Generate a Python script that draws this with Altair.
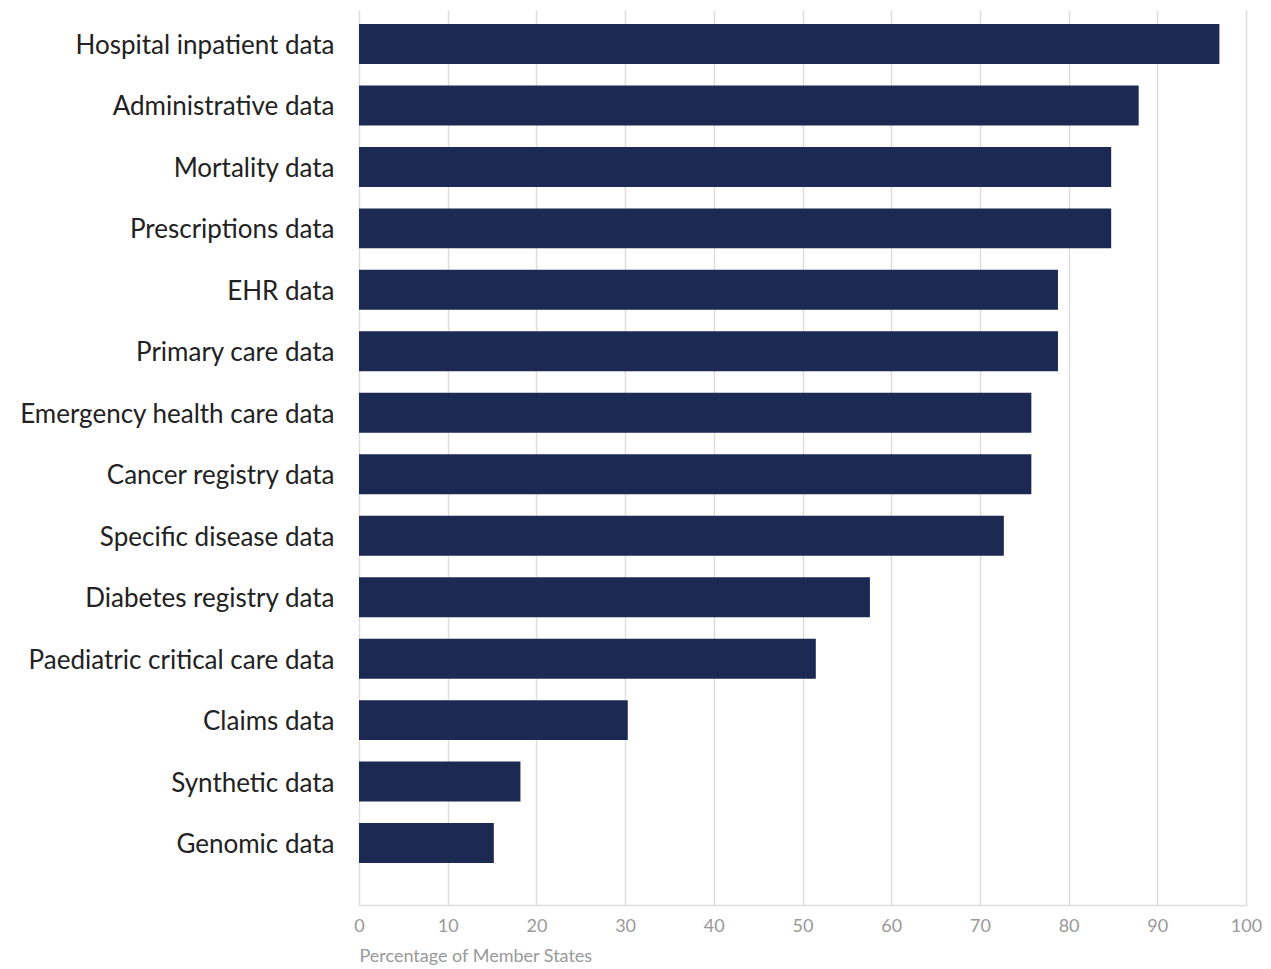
import altair as alt
import pandas as pd

categories = [
    "Hospital inpatient data", "Administrative data", "Mortality data",
    "Prescriptions data", "EHR data", "Primary care data",
    "Emergency health care data", "Cancer registry data",
    "Specific disease data", "Diabetes registry data",
    "Paediatric critical care data", "Claims data", "Synthetic data",
    "Genomic data",
]
values = [97.0, 87.9, 84.8, 84.8, 78.8, 78.8, 75.8, 75.8, 72.7, 57.6, 51.5, 30.3, 18.2, 15.2]

df = pd.DataFrame({"category": categories, "value": values})

chart = alt.Chart(df).mark_bar(color="#1c2953").encode(
    x=alt.X("value:Q",
            scale=alt.Scale(domain=[0, 100], nice=False),
            axis=alt.Axis(title="Percentage of Member States", values=list(range(0, 101, 10)),
                          grid=True, gridColor="#dddddd", gridWidth=1.5,
                          domain=True, domainColor="#dddddd", domainWidth=1.5,
                          ticks=False, labelColor="#999999", labelFontSize=18,
                          labelFont="Lato", labelPadding=12, labelFlush=False,
                          titleFont="Lato", titleFontSize=18, titleColor="#999999",
                          titleFontWeight="normal", titleAnchor="start", titlePadding=12)),
    y=alt.Y("category:N", sort=categories,
            scale=alt.Scale(paddingInner=0.35, paddingOuter=0.455, align=0.25),
            axis=alt.Axis(title=None, domain=False, ticks=False, labelFont="Lato",
                          labelFontSize=26, labelColor="#222222", labelPadding=25,
                          labelLimit=400, labelBaseline="middle", labelOffset=2)),
).properties(
    width=887, height=895,
    autosize=alt.AutoSizeParams(type="none"),
    padding={"left": 351, "top": 2, "right": 16, "bottom": 60},
).configure_view(stroke=None)

chart.save("out.html", embed_options={"renderer": "svg", "actions": False})
